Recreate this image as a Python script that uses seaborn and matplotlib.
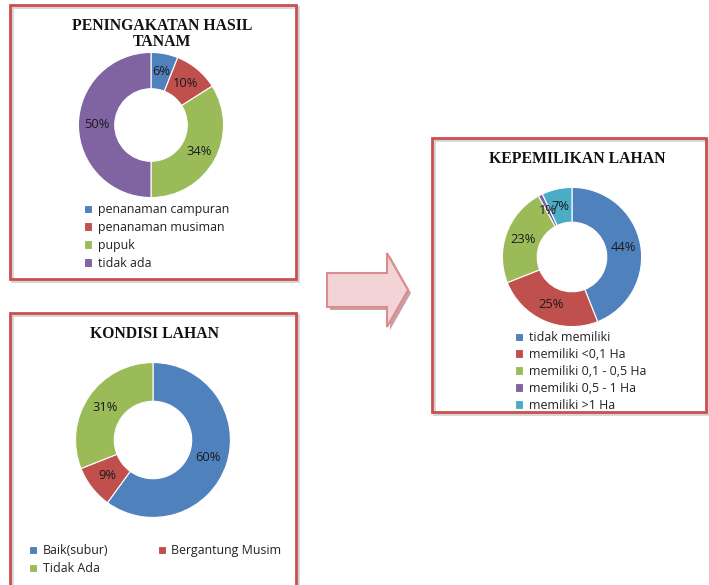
import matplotlib
matplotlib.use("Agg")
import matplotlib.pyplot as plt
import seaborn as sns
from matplotlib.patches import Rectangle, Polygon

W, H = 709, 585

title1 = "PENINGAKATAN HASIL\nTANAM"
labels1 = ["penanaman campuran", "penanaman musiman", "pupuk", "tidak ada"]
values1 = [6, 10, 34, 50]

title2 = "KONDISI LAHAN"
labels2 = ["Baik(subur)", "Bergantung Musim", "Tidak Ada"]
values2 = [60, 9, 31]

title3 = "KEPEMILIKAN LAHAN"
labels3 = ["tidak memiliki", "memiliki <0,1 Ha", "memiliki 0,1 - 0,5 Ha",
           "memiliki 0,5 - 1 Ha", "memiliki >1 Ha"]
values3 = [44, 25, 23, 1, 7]

colors = sns.color_palette(["#4F81BD", "#C0504D", "#9BBB59", "#8064A2", "#4BACC6"])

sns.set_theme(style="white")
plt.rcParams["font.family"] = ["Open Sans", "DejaVu Sans"]

fig = plt.figure(figsize=(W / 100, H / 100), dpi=100)
fig.patch.set_facecolor("white")


def fx(x):
    return x / W


def fy(y):
    return 1 - y / H


def box(x0, y0, x1, y1):
    fig.patches.append(Rectangle((fx(x0 + 2), fy(y1 + 2)), (x1 - x0) / W, (y1 - y0) / H,
                                 transform=fig.transFigure, facecolor="none",
                                 edgecolor="#d4d4d4", lw=2, zorder=0))
    fig.patches.append(Rectangle((fx(x0), fy(y1)), (x1 - x0) / W, (y1 - y0) / H,
                                 transform=fig.transFigure, facecolor="none",
                                 edgecolor="#CC4F4F", lw=2, zorder=1))


def donut(cx, cy, r, values):
    ax = fig.add_axes([fx(cx - r), fy(cy + r), 2 * r / W, 2 * r / H])
    wedges, _, _ = ax.pie(values, colors=colors[:len(values)], startangle=90,
                          counterclock=False, radius=1,
                          autopct=lambda p: f"{p:.0f}%", pctdistance=0.75,
                          wedgeprops=dict(width=0.5, edgecolor="white", linewidth=0.8),
                          textprops=dict(fontsize=9.3, color="#1a1a1a"))
    ax.set_xlim(-1.02, 1.02)
    ax.set_ylim(-1.02, 1.02)
    ax.set_aspect("equal")
    ax.axis("off")
    return wedges


def title(x, y, s):
    fig.text(fx(x), fy(y), s, ha="center", va="center", family="Liberation Serif",
             weight="bold", fontsize=11.3, color="#111111", linespacing=1.05)


legend_kw = dict(loc="upper left", frameon=False, borderpad=0, borderaxespad=0,
                 handlelength=0.65, handleheight=0.65, handletextpad=0.45,
                 fontsize=8.9, labelcolor="#222222")

# boxes
box(10, 5, 296, 279)
box(10, 313, 296, 600)
box(432, 138, 706, 412)

# arrow
shaft_top, shaft_bot = 273, 307
pts = [(327, shaft_top), (387, shaft_top), (387, 253), (408, 290), (387, 327),
       (387, shaft_bot), (327, shaft_bot)]
shadow = [(fx(x + 3), fy(y + 3)) for x, y in pts]
fig.patches.append(Polygon(shadow, closed=True, transform=fig.transFigure,
                           facecolor="#c9a0a2", edgecolor="none", zorder=0))
fig.patches.append(Polygon([(fx(x), fy(y)) for x, y in pts], closed=True,
                           transform=fig.transFigure, facecolor="#F3D4D6",
                           edgecolor="#DA8C90", lw=1.5, zorder=1))

# chart 1
title(162, 34, title1)
w1 = donut(151, 125, 74, values1)
fig.legend(w1, labels1, bbox_to_anchor=(fx(84), fy(203)), labelspacing=0.4, **legend_kw)

# chart 2
title(154, 334, title2)
w2 = donut(153, 440, 79, values2)
fig.legend([w2[0], w2[2], w2[1]], [labels2[0], labels2[2], labels2[1]],
           bbox_to_anchor=(fx(29), fy(544)), ncol=2, columnspacing=4.0,
           labelspacing=0.42, **legend_kw)

# chart 3
title(577, 159, title3)
w3 = donut(572, 257, 71, values3)
fig.legend(w3, labels3, bbox_to_anchor=(fx(515), fy(331)), labelspacing=0.32, **legend_kw)

fig.savefig("out.png", dpi=100, facecolor="white")
